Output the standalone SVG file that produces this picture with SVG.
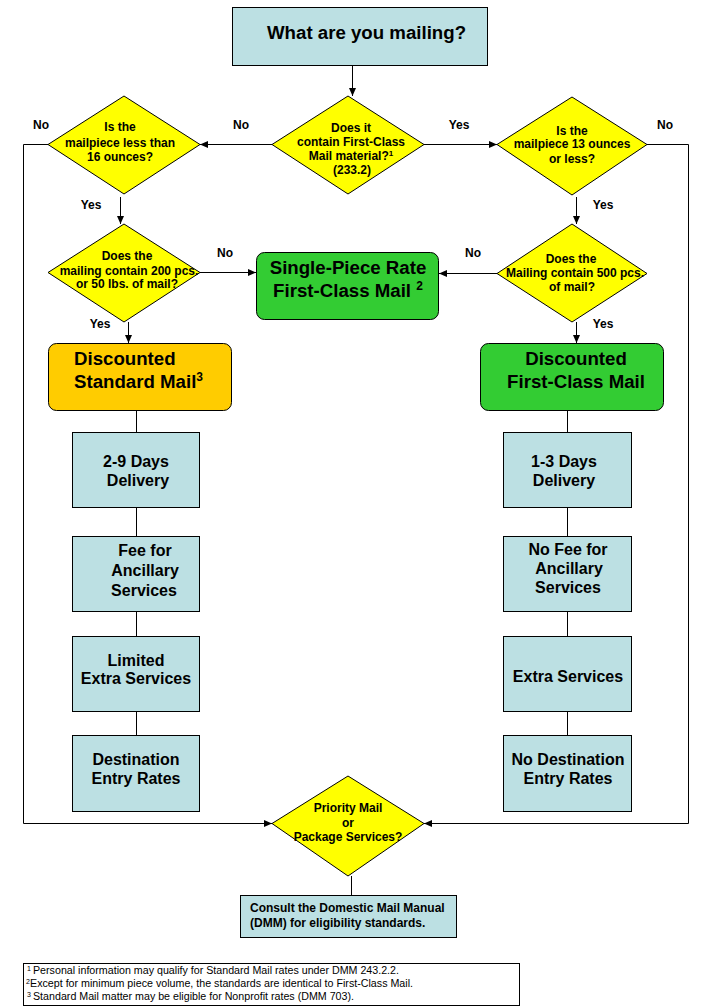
<svg xmlns="http://www.w3.org/2000/svg" width="720" height="1008" viewBox="0 0 720 1008">
<defs>
<marker id="arr" markerUnits="userSpaceOnUse" markerWidth="8" markerHeight="8" viewBox="0 0 8 8" refX="8" refY="4" orient="auto">
<path d="M0,0.5 L8,4 L0,7.5 Z" fill="#000"/>
</marker>
<style>
text{font-family:"Liberation Sans",Arial,sans-serif;fill:#000}
.d{fill:#FFFF00;stroke:#000;stroke-width:1}
.b{fill:#BCE0E3;stroke:#000;stroke-width:1}
.g{fill:#33CC33;stroke:#000;stroke-width:1}
.o{fill:#FFCC00;stroke:#000;stroke-width:1}
.dt{font-size:12px;font-weight:bold;text-anchor:middle}
.lb{font-size:12px;font-weight:bold;text-anchor:middle}
.bt{font-size:16px;font-weight:bold;text-anchor:middle}
.big{font-size:18.67px;font-weight:bold}
.fn{font-size:10px}
.c{fill:none;stroke:#000;stroke-width:1}
.ca{fill:none;stroke:#000;stroke-width:1;marker-end:url(#arr)}
</style>
</defs>
<rect width="720" height="1008" fill="#fff"/>

<g id="connectors">
<path class="ca" d="M352.5 66 V96"/>
<path class="ca" d="M272 144.5 H200"/>
<path class="ca" d="M424 144.5 H497"/>
<path class="ca" d="M120.5 197 V224"/>
<path class="ca" d="M200 272.5 H256"/>
<path class="ca" d="M128.5 322 V343"/>
<path class="ca" d="M576.5 197 V224"/>
<path class="ca" d="M497 273.5 H439"/>
<path class="ca" d="M576.5 322 V343"/>
<path class="ca" d="M48 144.5 H23.5 V823.5 H272"/>
<path class="ca" d="M647 144.5 H688.5 V823.5 H424"/>
<path class="c" d="M136.5 411 V432 M136.5 507 V536 M136.5 611 V636 M136.5 711 V735"/>
<path class="c" d="M567.5 411 V432 M567.5 507 V536 M567.5 611 V636 M567.5 711 V735"/>
<path class="c" d="M351.5 876 V895"/>
<text class="lb" x="41" y="129">No</text>
<text class="lb" x="241" y="129">No</text>
<text class="lb" x="459" y="129">Yes</text>
<text class="lb" x="665" y="129">No</text>
<text class="lb" x="91" y="209">Yes</text>
<text class="lb" x="603" y="209">Yes</text>
<text class="lb" x="225" y="257">No</text>
<text class="lb" x="473" y="257">No</text>
<text class="lb" x="100" y="328">Yes</text>
<text class="lb" x="603" y="328">Yes</text>
</g>

<g id="start">
<rect class="b" x="232.5" y="7.5" width="255" height="58"/>
<text class="big" x="267" y="39">What are you mailing?</text>
</g>

<g id="q-firstclass">
<polygon class="d" points="348,96 424,144.5 348,194 272,144.5"/>
<text class="dt" x="351" y="132">Does it</text>
<text class="dt" x="351" y="146">contain First-Class</text>
<text class="dt" x="351" y="160">Mail material?<tspan font-size="8" dy="-4">1</tspan></text>
<text class="dt" x="352" y="174">(233.2)</text>
</g>

<g id="q-16oz">
<polygon class="d" points="124,96 200,144.5 124,194 48,144.5"/>
<text class="dt" x="120" y="131">Is the</text>
<text class="dt" x="120" y="147">mailpiece less than</text>
<text class="dt" x="120" y="161">16 ounces?</text>
</g>

<g id="q-13oz">
<polygon class="d" points="572,97 647,144.5 572,195 497,144.5"/>
<text class="dt" x="572" y="135">Is the</text>
<text class="dt" x="572" y="148">mailpiece 13 ounces</text>
<text class="dt" x="572" y="163">or less?</text>
</g>

<g id="q-200pcs">
<polygon class="d" points="124,224 200,272.5 124,322 48,272.5"/>
<text class="dt" x="127" y="260">Does the</text>
<text class="dt" x="129" y="275">mailing contain 200 pcs.</text>
<text class="dt" x="127" y="288">or 50 lbs. of mail?</text>
</g>

<g id="q-500pcs">
<polygon class="d" points="572,224 647,273.5 572,322 497,273.5"/>
<text class="dt" x="571" y="263">Does the</text>
<text class="dt" x="575" y="277">Mailing contain 500 pcs.</text>
<text class="dt" x="572" y="291">of mail?</text>
</g>

<g id="single-piece">
<rect class="g" x="256.5" y="252.5" width="182" height="67" rx="8"/>
<text class="big" x="348" y="274" text-anchor="middle">Single-Piece Rate</text>
<text class="big" x="348" y="297" text-anchor="middle">First-Class Mail <tspan font-size="12" dy="-7">2</tspan></text>
</g>

<g id="discounted-standard">
<rect class="o" x="48.5" y="343.5" width="183" height="67" rx="8"/>
<text class="big" x="74" y="365">Discounted</text>
<text class="big" x="74" y="388">Standard Mail<tspan font-size="12" dy="-7">3</tspan></text>
</g>

<g id="discounted-firstclass">
<rect class="g" x="480.5" y="343.5" width="183" height="67" rx="8"/>
<text class="big" x="576" y="365" text-anchor="middle">Discounted</text>
<text class="big" x="576" y="388" text-anchor="middle">First-Class Mail</text>
</g>

<g id="std-delivery">
<rect class="b" x="72.5" y="432.5" width="127" height="75"/>
<text class="bt" x="136" y="467">2-9 Days</text>
<text class="bt" x="138" y="486">Delivery</text>
</g>
<g id="std-fee">
<rect class="b" x="72.5" y="536.5" width="127" height="75"/>
<text class="bt" x="145" y="556">Fee for</text>
<text class="bt" x="145" y="576">Ancillary</text>
<text class="bt" x="144" y="596">Services</text>
</g>
<g id="std-extra">
<rect class="b" x="72.5" y="636.5" width="127" height="75"/>
<text class="bt" x="136" y="666">Limited</text>
<text class="bt" x="136" y="684">Extra Services</text>
</g>
<g id="std-dest">
<rect class="b" x="72.5" y="735.5" width="127" height="76"/>
<text class="bt" x="136" y="765">Destination</text>
<text class="bt" x="136" y="784">Entry Rates</text>
</g>

<g id="fc-delivery">
<rect class="b" x="503.5" y="432.5" width="128" height="75"/>
<text class="bt" x="564" y="467">1-3 Days</text>
<text class="bt" x="564" y="486">Delivery</text>
</g>
<g id="fc-fee">
<rect class="b" x="503.5" y="536.5" width="128" height="75"/>
<text class="bt" x="568" y="555">No Fee for</text>
<text class="bt" x="569" y="574">Ancillary</text>
<text class="bt" x="568" y="593">Services</text>
</g>
<g id="fc-extra">
<rect class="b" x="503.5" y="636.5" width="128" height="75"/>
<text class="bt" x="568" y="682">Extra Services</text>
</g>
<g id="fc-dest">
<rect class="b" x="503.5" y="735.5" width="128" height="76"/>
<text class="bt" x="568" y="765">No Destination</text>
<text class="bt" x="568" y="784">Entry Rates</text>
</g>

<g id="q-priority">
<polygon class="d" points="348,776 424,823.5 348,876 272,823.5"/>
<text class="dt" x="348" y="812">Priority Mail</text>
<text class="dt" x="348" y="827">or</text>
<text class="dt" x="348" y="841">Package Services?</text>
</g>

<g id="consult">
<rect class="b" x="240.5" y="895.5" width="216" height="42"/>
<text x="250" y="912" font-size="12" font-weight="bold">Consult the Domestic Mail Manual</text>
<text x="250" y="927" font-size="12" font-weight="bold">(DMM) for eligibility standards.</text>
</g>

<g id="footnotes">
<rect x="23.5" y="963.5" width="496" height="42" fill="#fff" stroke="#000" stroke-width="1"/>
<text class="fn" x="27" y="974"><tspan font-size="7" dy="-3">1</tspan></text>
<text class="fn" x="33" y="974" textLength="366" lengthAdjust="spacingAndGlyphs">Personal information may qualify for Standard Mail rates under DMM 243.2.2.</text>
<text class="fn" x="26" y="987"><tspan font-size="7" dy="-3">2</tspan></text>
<text class="fn" x="30" y="987" textLength="383" lengthAdjust="spacingAndGlyphs">Except for minimum piece volume, the standards are identical to First-Class Mail.</text>
<text class="fn" x="27" y="1000"><tspan font-size="7" dy="-3">3</tspan></text>
<text class="fn" x="33" y="1000" textLength="321" lengthAdjust="spacingAndGlyphs">Standard Mail matter may be eligible for Nonprofit rates (DMM 703).</text>
</g>
</svg>
